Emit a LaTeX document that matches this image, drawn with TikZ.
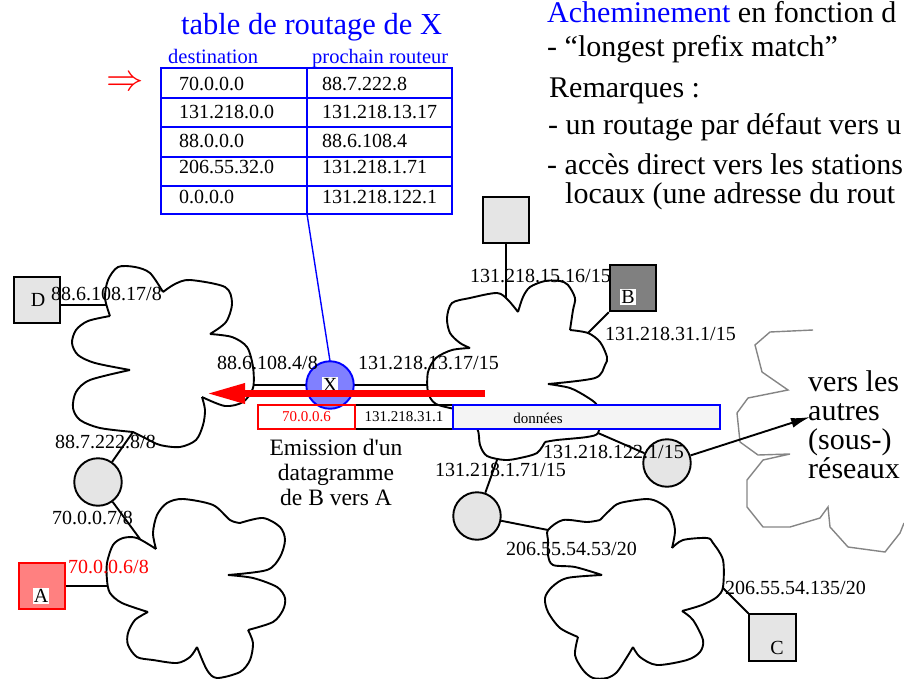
\documentclass[tikz,border=0pt]{standalone}
\usepackage{fontspec}
\setmainfont{Liberation Serif}
\usetikzlibrary{arrows.meta, positioning}

\definecolor{hostgray}{HTML}{E5E5E5}
\definecolor{darkhost}{HTML}{808080}
\definecolor{xblue}{HTML}{8080FF}
\definecolor{apink}{HTML}{FF8080}
\definecolor{datagray}{HTML}{F4F4F4}
\definecolor{othergray}{HTML}{858585}

\newcommand{\bigfont}{\fontsize{30}{29}\selectfont}
\newcommand{\titlefont}{\fontsize{30.5}{32}\selectfont}
\newcommand{\addrfont}{\fontsize{20}{22}\selectfont}
\newcommand{\headfont}{\fontsize{20.5}{22}\selectfont}
\newcommand{\pktfont}{\fontsize{15}{17}\selectfont}
\newcommand{\notefont}{\fontsize{23.5}{25}\selectfont}

\begin{document}
\begin{tikzpicture}[x=1pt, y=-1pt,
    cloud/.style={line width=1.9pt, line join=round},
    link/.style={line width=1.9pt},
    host/.style={rectangle, draw, line width=1.9pt, fill=hostgray, minimum size=46.5pt, inner sep=0pt},
    router/.style={circle, draw, line width=1.9pt, fill=hostgray, minimum size=47.5pt, inner sep=0pt},
    addr/.style={font=\addrfont, inner sep=0pt, anchor=base west},
    tag/.style={font=\addrfont, fill=white, inner sep=1pt},
    entry/.style={font=\addrfont, inner sep=0pt, anchor=base west},
    note/.style={font=\bigfont, inner sep=0pt, anchor=base west},
    tabline/.style={blue, line width=2pt},
    pkt/.style={rectangle, draw, line width=1.9pt, minimum height=24pt, inner sep=0pt, outer sep=0pt, font=\pktfont},
    bigarrow/.style={red, line width=6.5pt, -{Triangle[length=38pt, width=19pt]}},
    ext/.style={line width=1.9pt, -{Latex[length=19pt, width=10pt]}}
  ]
  \useasboundingbox (0,0) rectangle (904,679);

  % routing table
  \node[font=\titlefont, text=blue, inner sep=0pt, anchor=base west] (title) at (181,35) {table de routage de X};
  \node[font=\headfont, text=blue, inner sep=0pt, anchor=base west] (hd-dst) at (168,64) {destination};
  \node[font=\headfont, text=blue, inner sep=0pt, anchor=base west] (hd-hop) at (312,64) {prochain routeur};
  \draw[tabline] (161,68) rectangle (452,214);
  \foreach \y in {98,127,157,186}
    \draw[tabline] (161,\y) -- (452,\y);
  \draw[tabline] (307,68) -- (307,214);
  \coordinate (tabfoot) at (307,214);
  \foreach \y/\dst/\hop [count=\i] in {91/70.0.0.0/88.7.222.8, 119/131.218.0.0/131.218.13.17,
      148/88.0.0.0/88.6.108.4, 174/206.55.32.0/131.218.1.71, 204/0.0.0.0/131.218.122.1} {
    \node[entry] (dst\i) at (179,\y) {\dst};
    \node[entry] (hop\i) at (322,\y) {\hop};
  }
  \node[font=\fontsize{24.88}{26}\selectfont, text=red, inner sep=0pt] (match) at (125.5,84) {\scalebox{1.5}{$\Rightarrow$}};

  % remarks (cut by the page edge)
  \begin{scope}
    \clip (0,0) rectangle (904,679);
    \node[note] (rem1) at (547,23) {\textcolor{blue}{Acheminement} en fonction d};
    \node[note] (rem2) at (547,57) {- “longest prefix match”};
    \node[note] (rem3) at (549,98) {Remarques :};
    \node[note] (rem4) at (548,135) {- un routage par défaut vers u};
    \node[note] (rem5) at (547,175) {- accès direct vers les stations};
    \node[note] (rem6) at (565,203) {locaux (une adresse du rout};
  \end{scope}

  % clouds
  \draw[cloud] plot[smooth] coordinates {(110,316) (105,298) (108,280) (118,267) (135,267) (150,273) (163,292)}
    plot[smooth] coordinates {(163,292) (175,284) (190,280) (225,287) (232,303) (226,322) (210,334)}
    plot[smooth] coordinates {(210,334) (232,337) (247,347) (253,367) (253,388) (243,402) (225,406) (202,397)}
    plot[smooth] coordinates {(202,397) (205,410) (203,425) (196,440) (180,447) (160,445) (145,438) (133,432)}
    plot[smooth] coordinates {(133,432) (100,428) (80,420) (73,408) (76,392) (90,380) (130,370)}
    plot[smooth] coordinates {(130,370) (95,363) (78,355) (72,343) (76,330) (88,321) (110,316)};
  \draw[cloud] plot[smooth] coordinates {(518,312) (523,297) (530,287) (545,281) (560,281) (568,285) (575,298) (573,310) (570,330)}
    plot[smooth] coordinates {(570,330) (588,333) (600,342) (607,357) (605,365) (595,378) (548,384)}
    plot[smooth] coordinates {(548,384) (570,388) (587,397) (597,405) (600,418) (598,433) (587,437) (557,440) (545,442)}
    plot[smooth] coordinates {(545,442) (537,453) (520,458) (505,460) (487,456) (480,445) (477,428) (460,410)}
    plot[smooth] coordinates {(460,410) (436,404) (428,392) (428,372) (436,358) (452,350) (470,348)}
    plot[smooth] coordinates {(470,348) (460,343) (450,333) (447,318) (452,303) (470,298) (497,293) (508,300) (518,312)};
  \draw[cloud] plot[smooth] coordinates {(156,549) (153,533) (157,515) (167,503) (183,499) (213,505) (230,520) (240,523)}
    plot[smooth] coordinates {(240,523) (263,518) (280,527) (285,540) (280,557) (267,570) (228,575)}
    plot[smooth] coordinates {(228,575) (253,578) (277,587) (285,598) (283,610) (273,622) (248,630)}
    plot[smooth] coordinates {(248,630) (253,643) (250,660) (240,672) (217,678) (207,670) (197,647)}
    plot[smooth] coordinates {(197,647) (190,657) (177,663) (153,660) (137,657) (128,645) (128,633) (135,620) (148,612)}
    plot[smooth] coordinates {(148,612) (122,603) (110,593) (107,580) (107,563) (113,545) (123,538) (137,538) (156,549)};
  \draw[cloud] plot[smooth] coordinates {(600,520) (610,510) (620,503) (647,499) (660,503) (670,512) (675,530) (672,548)}
    plot[smooth] coordinates {(672,548) (683,540) (707,538) (713,543) (723,560) (723,587) (717,597) (702,605) (682,611)}
    plot[smooth] coordinates {(682,611) (693,620) (703,640) (700,652) (687,660) (657,665) (640,657) (633,647)}
    plot[smooth] coordinates {(633,647) (627,657) (617,672) (607,678) (593,678) (583,670) (575,655) (578,637)}
    plot[smooth] coordinates {(578,637) (560,628) (548,612) (545,598) (552,587) (567,578) (602,575)}
    plot[smooth] coordinates {(602,575) (575,567) (553,565) (548,555) (548,540) (548,530) (563,520) (587,522) (600,520)};
  \draw[othergray, line width=1.4pt] (813,330) -- (770,332) -- (755,345) -- (762,372) -- (788,390) -- (748,398)
    -- (737,413) -- (740,442) -- (758,455) -- (790,454) -- (763,460) -- (747,480) -- (747,507) -- (763,527)
    -- (790,527) -- (820,518) -- (828,507) -- (830,527) -- (848,547) -- (885,552) -- (900,533) -- (904,523);

  % points where the links meet the clouds
  \coordinate (c88-D) at (107,305);
  \coordinate (c88-X) at (253,385);
  \coordinate (c88-R) at (133,432);
  \coordinate (c131-X) at (428,385);
  \coordinate (c131-H) at (506,298);
  \coordinate (c131-B) at (588,333);
  \coordinate (c131-R3) at (598,433);
  \coordinate (c131-R2) at (497,460);
  \coordinate (c70-R) at (140,539);
  \coordinate (c70-A) at (107,586);
  \coordinate (c206-R) at (548,530);
  \coordinate (c206-C) at (723,588);

  % hosts and routers
  \node[host] (D) at (37,300) {};
  \node[host] (H) at (506,220) {};
  \node[host, fill=darkhost] (B) at (633,288) {};
  \node[host, draw=red, fill=apink] (A) at (42,586) {};
  \node[host] (C) at (772.5,637.5) {};
  \node[router] (R1) at (98,482) {};
  \node[router] (R2) at (477,516) {};
  \node[router] (R3) at (667,463) {};

  \draw[link] (D.east |- c88-D) -- (c88-D);
  \draw[link] (A) -- (c70-A);
  \draw[link] (R1) -- (c88-R);
  \draw[link] (R1) -- (c70-R);
  \draw[link] (c88-X) -- (c131-X);
  \draw[link] (H) -- (c131-H);
  \draw[link] (B) -- (c131-B);
  \draw[link] (R3) -- (c131-R3);
  \draw[link] (R2) -- (c131-R2);
  \draw[link] (R2) -- (c206-R);
  \draw[link] (C) -- (c206-C);
  \draw[blue, line width=1.4pt] (tabfoot) -- (330,361);

  \node[router, draw=blue, fill=xblue] (X) at (330,385) {};
  \node[tag] (X-tag) at (X) {X};
  \node[font=\addrfont, inner sep=0pt] (D-tag) at (38,300) {D};
  \node[tag] (A-tag) at (41,596) {A};
  \node[tag] (B-tag) at (628,297) {B};
  \node[font=\addrfont, inner sep=0pt] (C-tag) at (777,648) {C};

  % addresses
  \node[addr] (a-D) at (51,300) {88.6.108.17/8};
  \node[addr] (a-X88) at (217,369) {88.6.108.4/8};
  \node[addr] (a-X131) at (358,369) {131.218.13.17/15};
  \node[addr] (a-R1up) at (55,448) {88.7.222.8/8};
  \node[addr] (a-R1lo) at (52,524) {70.0.0.7/8};
  \node[addr, text=red] (a-A) at (68,573) {70.0.0.6/8};
  \node[addr] (a-H) at (470,282) {131.218.15.16/15};
  \node[addr] (a-B) at (605,340) {131.218.31.1/15};
  \node[addr] (a-R3) at (543,458) {131.218.122.1/15};
  \node[addr] (a-R2up) at (435,476) {131.218.1.71/15};
  \node[addr] (a-R2lo) at (506,555) {206.55.54.53/20};
  \node[addr] (a-C) at (725,594) {206.55.54.135/20};

  % datagram sent by B
  \coordinate (flow-from) at (485,393.5);
  \coordinate (flow-to) at (207,393.5);
  \draw[bigarrow] (flow-from) -- (flow-to);
  \node[pkt, minimum width=98pt] (src) at (404,417) {131.218.31.1};
  \node[pkt, draw=red, text=red, minimum width=97pt, left=0pt of src] (dst) {70.0.0.6};
  \node[pkt, draw=blue, fill=datagray, minimum width=267pt, right=0pt of src] (data) {};
  \node[font=\pktfont, inner sep=0pt] (data-txt) at (538,418) {données};
  \node[font=\notefont, align=center, inner sep=0pt, anchor=north] (emis) at (336,439) {Emission d\textquotesingle un\\datagramme\\de B vers A};

  % towards other networks
  \node[font=\bigfont, align=left, inner sep=0pt, anchor=north west] (ext-txt) at (808,370) {vers les\\autres\\(sous-)\\réseaux};
  \coordinate (ext-tip) at (810,417);
  \draw[ext] (R3) -- (ext-tip);
\end{tikzpicture}
\end{document}
